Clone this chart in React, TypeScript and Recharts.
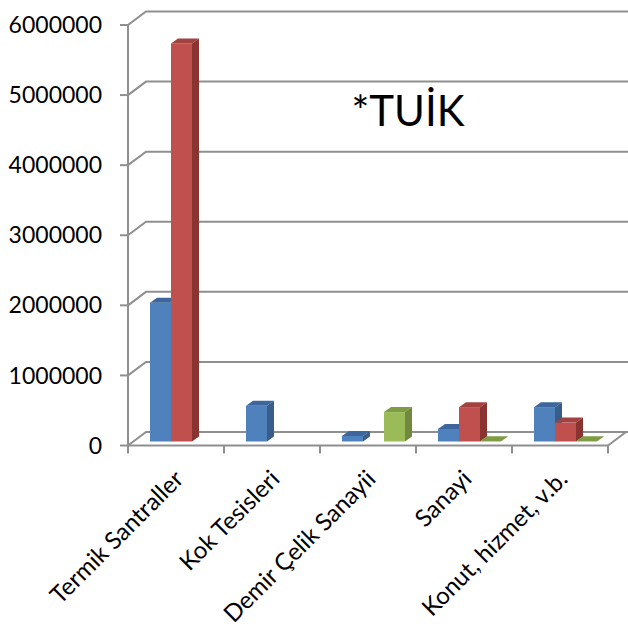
import React from 'react';
import { BarChart, Bar, XAxis, YAxis, CartesianGrid } from 'recharts';

const categories = ['Termik Santraller', 'Kok Tesisleri', 'Demir Çelik Sanayii', 'Sanayi', 'Konut, hizmet, v.b.'];
const blueValues = [1980000, 510000, 80000, 180000, 490000];
const redValues = [5680000, null, null, 490000, 270000];
const greenValues = [null, null, 420000, 5000, 5000];
const yTicks = [0, 1000000, 2000000, 3000000, 4000000, 5000000, 6000000];

const data = categories.map((name, i) => ({
  name,
  blue: blueValues[i],
  red: redValues[i],
  green: greenValues[i],
}));

// chart geometry
const WIDTH = 628;
const HEIGHT = 626;
const Y_AXIS_W = 128;
const X_AXIS_H = 180.5;
const MARGIN = { top: 25, right: 20, left: 0, bottom: 0 };
const FLOOR_Y = HEIGHT - X_AXIS_H;
const BAND = (WIDTH - Y_AXIS_W - MARGIN.right) / categories.length;

// depth of the back wall and of each bar
const WALL_DX = 18;
const WALL_DY = 13.5;
const BAR_SHIFT_X = 5.5;
const BAR_SHIFT_Y = 4;
const BAR_DX = 7;
const BAR_DY = 5;

const GRID = '#8f8f8f';
const FONT = 'Lato, "Open Sans", sans-serif';

const palette = {
  blue: { front: '#4f81bd', top: '#3d679c', side: '#385d8a' },
  red: { front: '#c0504d', top: '#a3413e', side: '#8a3432' },
  green: { front: '#9bbb59', top: '#7f9c44', side: '#71893f' },
};

function makeBox(key: 'blue' | 'red' | 'green') {
  const c = palette[key];
  return (props: any) => {
    const { x, y, width, height, payload } = props;
    if (payload == null || payload[key] == null) return <g />;
    const x0 = x + BAR_SHIFT_X;
    const y0 = y - BAR_SHIFT_Y;
    const h = Math.max(height, 0);
    const w = width;
    return (
      <g>
        <rect x={x0} y={y0} width={w} height={h} fill={c.front} />
        <polygon
          points={`${x0},${y0} ${x0 + BAR_DX},${y0 - BAR_DY} ${x0 + w + BAR_DX},${y0 - BAR_DY} ${x0 + w},${y0}`}
          fill={c.top}
        />
        <polygon
          points={`${x0 + w},${y0} ${x0 + w + BAR_DX},${y0 - BAR_DY} ${x0 + w + BAR_DX},${y0 + h - BAR_DY} ${x0 + w},${y0 + h}`}
          fill={c.side}
        />
      </g>
    );
  };
}

// horizontal grid line: short diagonal to the back wall, then across it
const WallLine = (p: any) => {
  const { x1, y1, x2 } = p;
  const isFloor = Math.abs(y1 - FLOOR_Y) < 1;
  return (
    <g key={`wall-${y1}`}>
      <path
        d={`M${x1},${y1} L${x1 + WALL_DX},${y1 - WALL_DY} L${x2 + WALL_DX + 4},${y1 - WALL_DY}`}
        stroke={GRID}
        strokeWidth={2}
        fill="none"
      />
      {isFloor && (
        <path d={`M${x2},${y1} L${x2 + WALL_DX},${y1 - WALL_DY}`} stroke={GRID} strokeWidth={2} fill="none" />
      )}
    </g>
  );
};

const CategoryTick = (props: any) => {
  const { x, index, payload } = props;
  const left = x - BAND / 2;
  const lx = x + 9;
  const ly = FLOOR_Y + 35;
  return (
    <g>
      <line x1={left} y1={FLOOR_Y} x2={left} y2={FLOOR_Y + 8} stroke={GRID} strokeWidth={2} />
      {index === categories.length - 1 && (
        <line x1={x + BAND / 2} y1={FLOOR_Y} x2={x + BAND / 2} y2={FLOOR_Y + 8} stroke={GRID} strokeWidth={2} />
      )}
      <text
        x={lx}
        y={ly}
        textAnchor="end"
        fontSize={24}
        fontFamily={FONT}
        fill="#000"
        transform={`rotate(-45 ${lx} ${ly})`}
      >
        {payload.value}
      </text>
    </g>
  );
};

export default function App() {
  return (
    <div style={{ position: 'absolute', left: 0, top: 0, background: '#fff' }}>
      <BarChart
        width={WIDTH}
        height={HEIGHT}
        data={data}
        margin={MARGIN}
        barCategoryGap={16.5}
        barGap={0}
        style={{ fontFamily: FONT }}
      >
        <CartesianGrid vertical={false} horizontal={WallLine} />
        <XAxis
          dataKey="name"
          height={X_AXIS_H}
          interval={0}
          tickLine={false}
          axisLine={{ stroke: GRID, strokeWidth: 2 }}
          tick={<CategoryTick />}
        />
        <YAxis
          width={Y_AXIS_W}
          domain={[0, 6000000]}
          ticks={yTicks}
          interval={0}
          tickSize={8}
          tickMargin={18}
          axisLine={{ stroke: GRID, strokeWidth: 2 }}
          tickLine={{ stroke: GRID, strokeWidth: 2 }}
          tick={{ fill: '#000', fontSize: 23, fontFamily: FONT }}
        />
        <Bar dataKey="blue" fill={palette.blue.front} shape={makeBox('blue')} isAnimationActive={false} />
        <Bar dataKey="red" fill={palette.red.front} shape={makeBox('red')} isAnimationActive={false} />
        <Bar dataKey="green" fill={palette.green.front} shape={makeBox('green')} isAnimationActive={false} />
        <text x={408} y={126} textAnchor="middle" fontSize={42} fontFamily={FONT} fill="#000">
          *TUİK
        </text>
      </BarChart>
    </div>
  );
}
